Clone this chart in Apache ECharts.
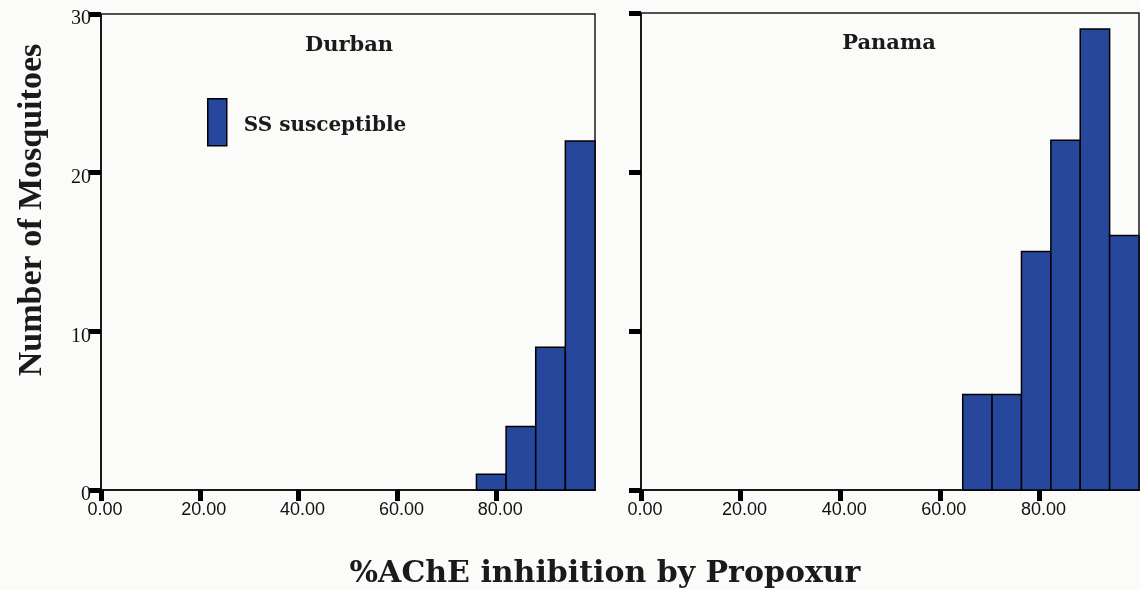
<!DOCTYPE html>
<html>
<head>
<meta charset="utf-8">
<script src="https://cdn.jsdelivr.net/npm/echarts@6/dist/echarts.min.js"></script>
<style>html,body{margin:0;padding:0;background:#fbfbf9;}#c{width:1140px;height:590px;}</style>
</head>
<body>
<div id="c"></div>
<script>
// ---- data ----
const panelTitles = ['Durban', 'Panama'];
const seriesName = 'SS susceptible';
const durbanBinStart = [76, 82, 88, 94];
const durbanBinWidth = 6;
const durbanCounts = [1, 4, 9, 22];
const panamaBinStart = [64.6, 70.5, 76.4, 82.3, 88.2, 94.1];
const panamaBinWidth = 5.9;
const panamaCounts = [6, 6, 15, 22, 29, 16];
const xTicks = [0, 20, 40, 60, 80];
const yTicks = [0, 10, 20, 30];
const xTitle = '%AChE inhibition by Propoxur';
const yTitle = 'Number of Mosquitoes';

const barColor = '#26479b';
const ink = '#1a1a1a';

function binsData(starts, width, counts) {
  return starts.map((s, i) => [s, s + width, counts[i]]);
}
function renderBar(params, api) {
  const p0 = api.coord([api.value(0), 0]);
  const p1 = api.coord([api.value(1), api.value(2)]);
  return {
    type: 'rect',
    shape: { x: p0[0], y: p1[1], width: p1[0] - p0[0], height: p0[1] - p1[1] },
    style: { fill: barColor, stroke: '#000', lineWidth: 1.5 }
  };
}

function xAxis(idx) {
  return {
    type: 'value', gridIndex: idx, min: 0, max: 100, interval: 20,
    axisLine: { show: true, lineStyle: { color: ink, width: 2 } },
    axisTick: { show: true, length: 11, lineStyle: { color: '#000', width: 5 }, customValues: xTicks },
    axisLabel: {
      customValues: xTicks, margin: 11, padding: [0, 0, 0, 8],
      formatter: v => v.toFixed(2),
      fontFamily: 'Liberation Sans', fontSize: 18, color: '#111'
    },
    splitLine: { show: false }
  };
}
function yAxis(idx, showLabel) {
  return {
    type: 'value', gridIndex: idx, min: 0, max: 30, interval: 10,
    axisLine: { show: true, lineStyle: { color: ink, width: 2 } },
    axisTick: { show: true, length: 12, lineStyle: { color: '#000', width: 5 }, customValues: yTicks },
    axisLabel: {
      show: showLabel, customValues: yTicks, margin: 10,
      verticalAlign: 'top', lineHeight: 10,
      fontFamily: 'Liberation Serif', fontSize: 20, color: '#111'
    },
    splitLine: { show: false }
  };
}

const chart = echarts.init(document.getElementById('c'), null, { renderer: 'canvas' });
chart.setOption({
  backgroundColor: '#fbfbf9',
  animation: false,
  grid: [
    { left: 101, top: 14, width: 494, height: 476, show: true, borderColor: ink, borderWidth: 1.5, backgroundColor: 'transparent' },
    { left: 641, top: 13, width: 498, height: 477, show: true, borderColor: ink, borderWidth: 1.5, backgroundColor: 'transparent' }
  ],
  xAxis: [xAxis(0), xAxis(1)],
  yAxis: [yAxis(0, true), yAxis(1, false)],
  title: [
    { text: panelTitles[0], left: 344, top: 30, textAlign: 'center',
      textStyle: { fontFamily: 'DejaVu Serif', fontWeight: 'bold', fontSize: 21, color: ink } },
    { text: panelTitles[1], left: 884, top: 28, textAlign: 'center',
      textStyle: { fontFamily: 'DejaVu Serif', fontWeight: 'bold', fontSize: 21, color: ink } },
    { text: xTitle, left: 600, top: 554, textAlign: 'center',
      textStyle: { fontFamily: 'DejaVu Serif', fontWeight: 'bold', fontSize: 30, color: ink } },
  ],
  graphic: [
    { type: 'text', x: 32, y: 210, rotation: Math.PI / 2,
      style: { text: yTitle, fill: ink, font: 'bold 34px "Liberation Serif"', align: 'center', verticalAlign: 'middle' } }
  ],
  legend: {
    left: 202, top: 93, orient: 'vertical',
    itemWidth: 19, itemHeight: 47, icon: 'rect',
    data: [{ name: seriesName, icon: 'rect', itemStyle: { color: barColor, borderColor: '#000', borderWidth: 1.5 } }],
    formatter: '{a|{name}}',
    textStyle: {
      fontFamily: 'DejaVu Serif', fontWeight: 'bold', fontSize: 20, color: ink,
      rich: { a: { fontFamily: 'DejaVu Serif', fontWeight: 'bold', fontSize: 20, color: ink, padding: [8, 0, 0, 12] } }
    }
  },
  series: [
    { name: seriesName, type: 'custom', xAxisIndex: 0, yAxisIndex: 0, renderItem: renderBar,
      itemStyle: { color: barColor }, encode: { x: [0, 1], y: 2 },
      data: binsData(durbanBinStart, durbanBinWidth, durbanCounts) },
    { name: seriesName, type: 'custom', xAxisIndex: 1, yAxisIndex: 1, renderItem: renderBar,
      itemStyle: { color: barColor }, encode: { x: [0, 1], y: 2 },
      data: binsData(panamaBinStart, panamaBinWidth, panamaCounts) }
  ]
});
</script>
</body>
</html>
